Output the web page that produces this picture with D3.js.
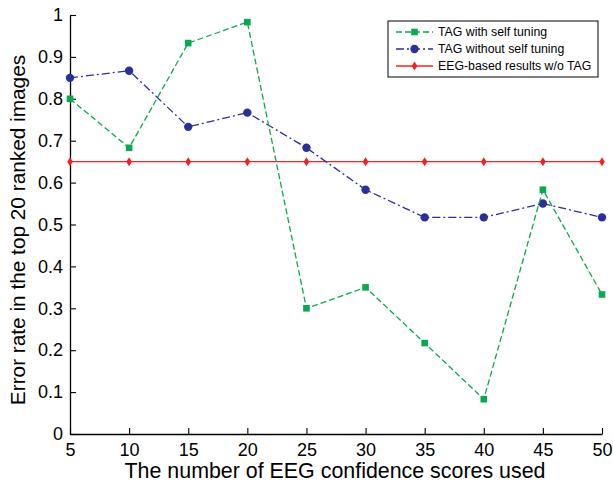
<!DOCTYPE html>
<html><head><meta charset="utf-8">
<script src="https://cdn.jsdelivr.net/npm/d3@7"></script>
<style>body{margin:0;background:#fff}svg{display:block}text{font-family:"Liberation Sans",Arial,sans-serif}</style>
</head><body><svg id="c" width="613" height="484"></svg>
<script>
const xValues = [5,10,15,20,25,30,35,40,45,50];
const selfTuning = [0.8,0.683,0.933,0.983,0.3,0.35,0.217,0.083,0.583,0.333];
const noSelfTuning = [0.85,0.867,0.733,0.767,0.683,0.583,0.517,0.517,0.55,0.517];
const eegOnly = [0.65,0.65,0.65,0.65,0.65,0.65,0.65,0.65,0.65,0.65];
const seriesNames = ["TAG with self tuning","TAG without self tuning","EEG-based results w/o TAG"];
const xTicks = [5,10,15,20,25,30,35,40,45,50];
const yTicks = [0,0.1,0.2,0.3,0.4,0.5,0.6,0.7,0.8,0.9,1];
const xTitle = "The number of EEG confidence scores used";
const yTitle = "Error rate in the top 20 ranked images";

const svg = d3.select("#c");
const x = d3.scaleLinear().domain([5,50]).range([70,602]);
const y = d3.scaleLinear().domain([0,1]).range([434,15]);

const series = [
  {name:seriesNames[0], values:selfTuning, color:"#0aa84f", dash:"6,3", marker:"square"},
  {name:seriesNames[1], values:noSelfTuning, color:"#2a2f9a", dash:"8,3,2,3", marker:"circle"},
  {name:seriesNames[2], values:eegOnly, color:"#f52020", dash:null, marker:"diamond"}
];

// axes
const xAxis = d3.axisBottom(x).tickValues(xTicks).tickSizeInner(-6).tickSizeOuter(0).tickPadding(9).tickFormat(d3.format("d"));
const yAxis = d3.axisLeft(y).tickValues(yTicks).tickSizeInner(-6).tickSizeOuter(0).tickPadding(7).tickFormat(d => d===0||d===1 ? String(d) : d3.format(".1f")(d));
const gx = svg.append("g").attr("transform","translate(0,434)").call(xAxis);
const gy = svg.append("g").attr("transform","translate(70,0)").call(yAxis);
[gx,gy].forEach(g=>{
  g.selectAll("path").attr("stroke","#000").attr("stroke-width",1.3);
  g.selectAll("line").attr("stroke","#000").attr("stroke-width",1.1);
  g.selectAll("text").attr("fill","#000").style("font-size","18px");
});
gx.selectAll("text").attr("dy","0.72em");

// lines
const line = d3.line().x((d,i)=>x(xValues[i])).y(d=>y(d));
function drawMarker(g, type, cx, cy, color){
  if(type==="square") g.append("rect").attr("x",cx-3.3).attr("y",cy-3.3).attr("width",6.6).attr("height",6.6).attr("fill",color);
  else if(type==="circle") g.append("circle").attr("cx",cx).attr("cy",cy).attr("r",4.2).attr("fill",color);
  else g.append("path").attr("d",`M${cx},${cy-4.5}L${cx+2.8},${cy}L${cx},${cy+4.5}L${cx-2.8},${cy}Z`).attr("fill",color);
}
// draw order: red, blue, green
[series[2],series[1],series[0]].forEach(s=>{
  const g = svg.append("g");
  g.append("path").attr("d",line(s.values)).attr("fill","none").attr("stroke",s.color)
    .attr("stroke-width",1.3).attr("stroke-dasharray",s.dash);
  s.values.forEach((v,i)=>drawMarker(g,s.marker,x(xValues[i]),y(v),s.color));
});

// legend
const lg = svg.append("g");
lg.append("rect").attr("x",388).attr("y",21).attr("width",210).attr("height",56).attr("fill","#fff").attr("stroke","#000").attr("stroke-width",1);
series.forEach((s,i)=>{
  const yy = 32 + i*17;
  lg.append("line").attr("x1",396).attr("x2",433).attr("y1",yy).attr("y2",yy).attr("stroke",s.color).attr("stroke-width",1.3).attr("stroke-dasharray",s.dash);
  drawMarker(lg,s.marker,414.5,yy,s.color);
  lg.append("text").attr("x",438).attr("y",yy).attr("dy","0.35em").style("font-size","12.3px").attr("fill","#000").text(s.name);
});

// titles
svg.append("text").attr("x",335).attr("y",478).attr("text-anchor","middle").style("font-size","21.4px").attr("fill","#000").text(xTitle);
svg.append("text").attr("transform","translate(25,230) rotate(-90)").attr("text-anchor","middle").style("font-size","20.8px").attr("fill","#000").text(yTitle);
</script></body></html>
